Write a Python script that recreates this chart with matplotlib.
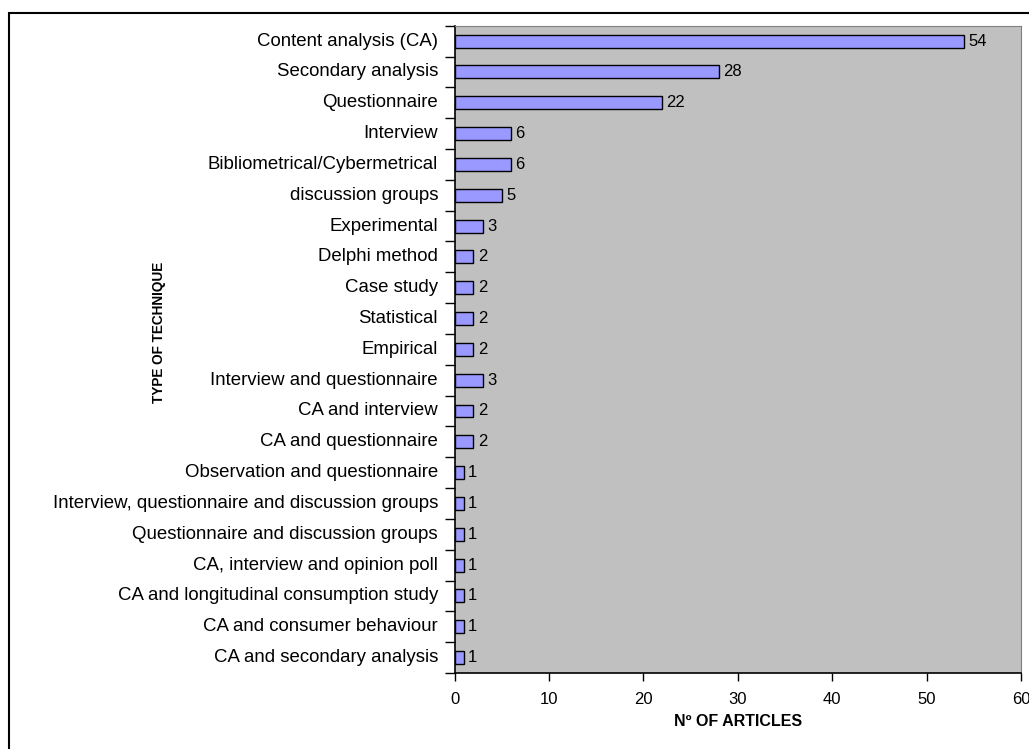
import matplotlib.pyplot as plt
from matplotlib.patches import Rectangle

plt.rcParams['font.family'] = ['Liberation Sans', 'DejaVu Sans']

# techniques, top to bottom
techniques = [
    "Content analysis (CA)",
    "Secondary analysis",
    "Questionnaire",
    "Interview",
    "Bibliometrical/Cybermetrical",
    "discussion groups",
    "Experimental",
    "Delphi method",
    "Case study",
    "Statistical",
    "Empirical",
    "Interview and questionnaire",
    "CA and interview",
    "CA and questionnaire",
    "Observation and questionnaire",
    "Interview, questionnaire and discussion groups",
    "Questionnaire and discussion groups",
    "CA, interview and opinion poll",
    "CA and longitudinal consumption study",
    "CA and consumer behaviour",
    "CA and secondary analysis",
]
articles = [54, 28, 22, 6, 6, 5, 3, 2, 2, 2, 2, 3, 2, 2, 1, 1, 1, 1, 1, 1, 1]
x_ticks = [0, 10, 20, 30, 40, 50, 60]

fig = plt.figure(figsize=(10.29, 7.49), dpi=100)
ax = fig.add_axes([0.4417, 0.1015, 0.5505, 0.8642])

n = len(techniques)
pos = list(range(n))
ax.barh(pos, articles, height=0.42, color="#9999FF", edgecolor="black", linewidth=1.0)
for p, v in zip(pos, articles):
    ax.text(v + 0.45, p, str(v), va="center", ha="left", fontsize=12)

ax.set_facecolor("#C0C0C0")
ax.set_xlim(0, 60)
ax.set_ylim(n - 0.5, -0.5)
ax.set_xticks(x_ticks)
ax.tick_params(axis="x", labelsize=12, length=6, width=1, pad=8)

# category labels sit between the boundary ticks
ax.set_yticks([p - 0.5 for p in pos] + [n - 0.5])
ax.set_yticklabels([])
ax.tick_params(axis="y", length=7, width=1)
for p, name in zip(pos, techniques):
    ax.text(-0.029, p, name, transform=ax.get_yaxis_transform(), ha="right",
            va="center", fontsize=13.4)

for side in ("top", "right"):
    ax.spines[side].set_color("#808080")
for side in ("left", "bottom"):
    ax.spines[side].set_color("black")
    ax.spines[side].set_linewidth(1.2)

ax.set_xlabel("Nº OF ARTICLES", fontsize=11.5, fontweight="bold", labelpad=5)
fig.text(159 / 1029, 1 - 332 / 749, "TYPE OF TECHNIQUE", rotation=90, fontsize=9.8,
         fontweight="bold", ha="center", va="center")

# outer chart border
fig.patches.append(Rectangle((8.5 / 1029, -0.1), 1.2, 1.1 - 13 / 749, transform=fig.transFigure,
                             fill=False, edgecolor="black", linewidth=1.5))

fig.savefig("out.png", dpi=100)
